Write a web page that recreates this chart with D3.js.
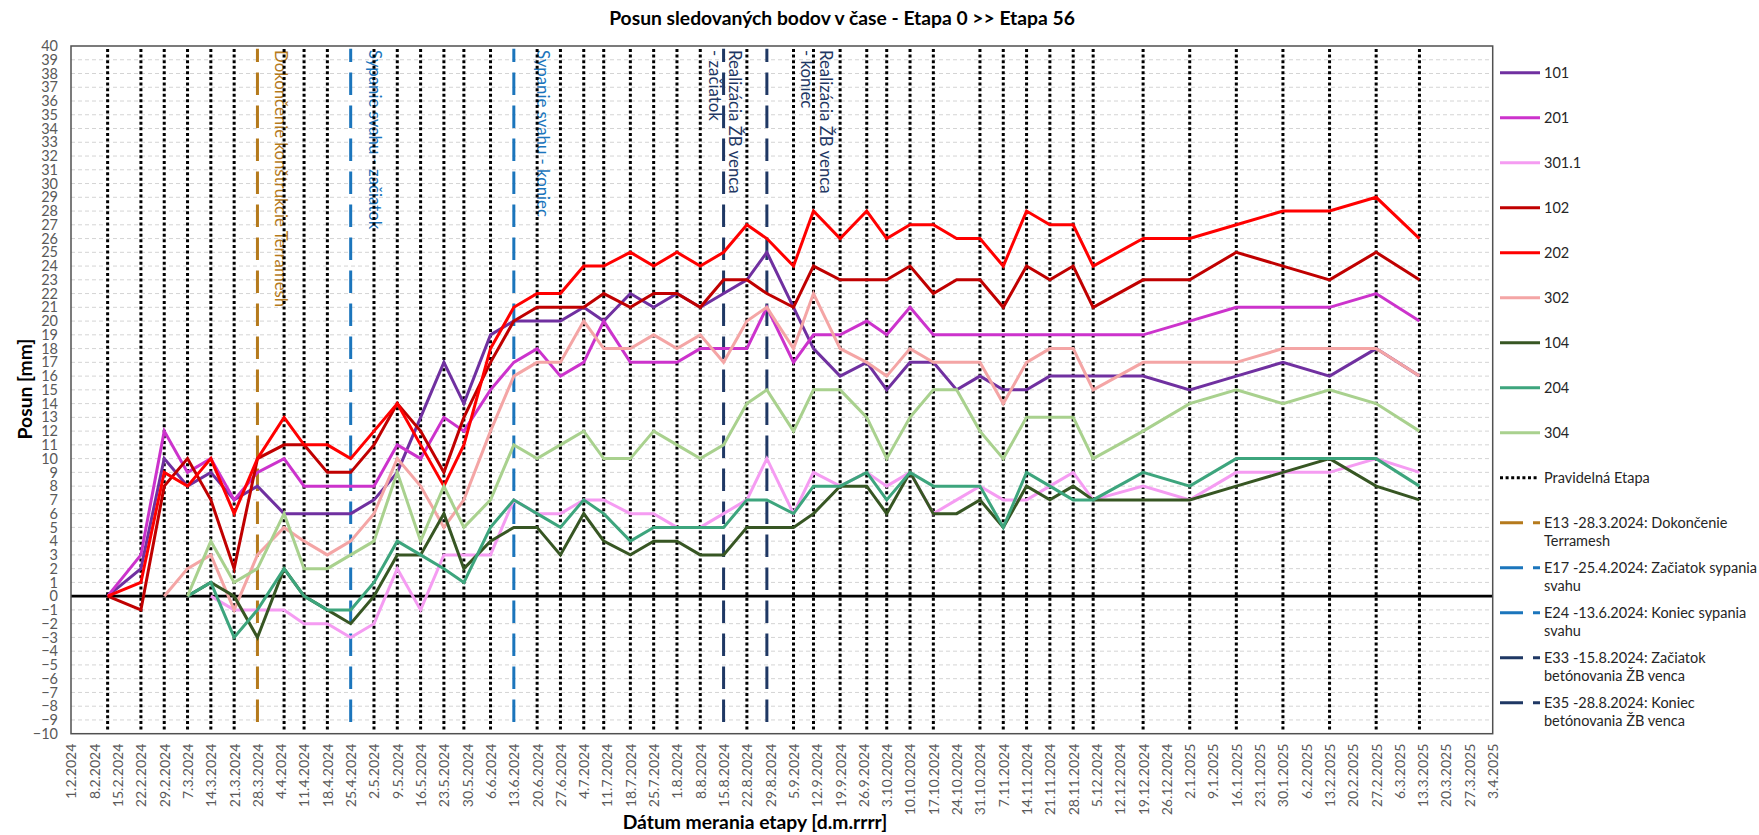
<!DOCTYPE html>
<html><head><meta charset="utf-8">
<script src="https://cdn.jsdelivr.net/npm/d3@7"></script>
<style>
body{margin:0;background:#fff;}
svg{display:block;font-family:Lato,"Open Sans",sans-serif;}
</style>
</head><body>
<svg id="chart" width="1759" height="835"></svg>
<script>
// ---------------- DATA ----------------
const dates = [
"2024-02-12","2024-02-22","2024-02-29","2024-03-07","2024-03-14","2024-03-21","2024-03-28","2024-04-05","2024-04-11","2024-04-18",
"2024-04-25","2024-05-02","2024-05-09","2024-05-16","2024-05-23","2024-05-29","2024-06-06","2024-06-13","2024-06-20","2024-06-27",
"2024-07-04","2024-07-10","2024-07-18","2024-07-25","2024-08-01","2024-08-08","2024-08-15","2024-08-22","2024-08-28","2024-09-05",
"2024-09-11","2024-09-19","2024-09-27","2024-10-03","2024-10-10","2024-10-17","2024-10-24","2024-10-31","2024-11-07","2024-11-14",
"2024-11-21","2024-11-28","2024-12-04","2024-12-19","2025-01-02","2025-01-16","2025-01-30","2025-02-13","2025-02-27","2025-03-12"];

const s101 = [0,2,10,8,9,7,8,6,6,6, 6,7,9,13,17,14,19,20,20,20, 21,20,22,21,22,21,22,23,25,21, 18,16,17,15,17,17,15,16,15,15, 16,16,16,16,15,16,17,16,18,16];
const s201 = [0,3,12,9,10,7,9,10,8,8, 8,8,11,10,13,12,15,17,18,16, 17,20,17,17,17,18,18,18,21,17, 19,19,20,19,21,19,19,19,19,19, 19,19,19,19,20,21,21,21,22,20];
const s301 = [null,null,null,null,0,-1,-1,-1,-2,-2, -3,-2,2,-1,3,3,3,7,6,6, 7,7,6,6,5,5,6,7,10,6, 9,8,9,8,9,6,7,8,7,7, 8,9,7,8,7,9,9,9,10,9];
const s102 = [0,-1,8,10,7,2,10,11,11,9, 9,11,14,12,9,13,17,20,21,21, 21,22,21,22,22,21,23,23,22,21, 24,23,23,23,24,22,23,23,21,24, 23,24,21,23,23,25,24,23,25,23];
const s202 = [0,1,9,8,10,6,10,13,11,11, 10,12,14,11,8,11,18,21,22,22, 24,24,25,24,25,24,25,27,26,24, 28,26,28,26,27,27,26,26,24,28, 27,27,24,26,26,27,28,28,29,26];
const s302 = [null,null,0,2,3,-1,3,5,4,3, 4,6,10,8,5,7,12,16,17,17, 20,18,18,19,18,19,17,20,21,18, 22,18,17,16,18,17,17,17,14,17, 18,18,15,17,17,17,18,18,18,16];
const s104 = [null,null,null,0,1,0,-3,2,0,-1, -2,0,3,3,6,2,4,5,5,3, 6,4,3,4,4,3,3,5,5,5, 6,8,8,6,9,6,6,7,5,8, 7,8,7,7,7,8,9,10,8,7];
const s204 = [null,null,null,0,1,-3,-1,2,0,-1, -1,1,4,3,2,1,5,7,6,5, 7,6,4,5,5,5,5,7,7,6, 8,8,9,7,9,8,8,8,5,9, 8,7,7,9,8,10,10,10,10,8];
const s304 = [null,null,null,0,4,1,2,6,2,2, 3,4,9,4,8,5,7,11,10,11, 12,10,10,12,11,10,11,14,15,12, 15,15,13,10,13,15,15,12,10,13, 13,13,10,12,14,15,14,15,14,12];

const seriesNames  = ["101","201","301.1","102","202","302","104","204","304"];
const seriesValues = [s101,s201,s301,s102,s202,s302,s104,s204,s304];
const seriesColors = ["#7030A0","#CC33CC","#F59CF2","#C00000","#FF0000","#F4A5A5","#375623","#3DA57D","#A9D18E"];

const eventDates  = ["2024-03-28","2024-04-25","2024-06-13","2024-08-15","2024-08-28"];
const eventLegend = [["E13 -28.3.2024: Dokončenie","Terramesh"],["E17 -25.4.2024: Začiatok sypania","svahu"],["E24 -13.6.2024: Koniec sypania","svahu"],["E33 -15.8.2024: Začiatok","betónovania ŽB venca"],["E35 -28.8.2024: Koniec","betónovania ŽB venca"]];
const eventLabels = [["Dokončenie konštrukcie Terramesh"],["Sypanie svahu - začiatok"],["Sypanie svahu - koniec"],["Realizácia ŽB venca","- začiatok"],["Realizácia ŽB venca","- koniec"]];
const eventColors = ["#B57A1C","#1B75BC","#1B75BC","#1F3864","#1F3864"];
const extraDates  = ["2024-10-24"];   // irregular stage, no dotted line
const regularLabel = "Pravidelná Etapa";

const yTickValues = d3.range(-10, 41, 1);
const xStart = "2024-02-01", xEnd = "2025-04-03";

const titleText = "Posun sledovaných bodov v čase - Etapa 0 >> Etapa 56";
const xTitle = "Dátum merania etapy [d.m.rrrr]";
const yTitle = "Posun [mm]";

// ---------------- LAYOUT ----------------
const P = {l:71, r:1492.7, t:46, b:733.7};
const labelPos = [{x:281.7,y:50},{x:375,y:50},{x:543,y:50},{x:735,y:50},{x:826.7,y:50}];
const DOT = "3,2.6";

const parse = d3.utcParse("%Y-%m-%d");
const fmt = d3.utcFormat("%-d.%-m.%Y");
const svg = d3.select("#chart");

const x = d3.scaleUtc().domain([parse(xStart), parse(xEnd)]).range([P.l, P.r]);
const y = d3.scaleLinear().domain([-10, 40]).range([P.b, P.t]);

// gridlines
svg.append("g").selectAll("line").data(yTickValues.filter(v => v !== 0 && v !== 40 && v !== -10)).join("line")
  .attr("x1", P.l).attr("x2", P.r).attr("y1", d => y(d)).attr("y2", d => y(d))
  .attr("stroke", "#D4D4D4").attr("stroke-width", 1).attr("stroke-dasharray", "4,3");

// event labels (under dotted lines)
eventLabels.forEach((lines, i) => {
  const g = svg.append("g").attr("transform", `translate(${labelPos[i].x},${labelPos[i].y}) rotate(90)`);
  lines.forEach((t, j) => {
    g.append("text").attr("x", 0).attr("y", j * 19.5).attr("dominant-baseline", "central")
      .attr("font-size", 16.8).attr("fill", eventColors[i]).text(t);
  });
});

// regular dotted lines
const excluded = new Set([...eventDates, ...extraDates]);
const regularDates = dates.filter(d => !excluded.has(d));
svg.append("g").selectAll("line").data(regularDates).join("line")
  .attr("x1", d => x(parse(d))).attr("x2", d => x(parse(d)))
  .attr("y1", y(-9.7)).attr("y2", y(39.8))
  .attr("stroke", "#000").attr("stroke-width", 3).attr("stroke-dasharray", DOT);

// event dashed lines
svg.append("g").selectAll("line").data(eventDates).join("line")
  .attr("x1", d => x(parse(d))).attr("x2", d => x(parse(d)))
  .attr("y1", 722).attr("y2", y(39.8))
  .attr("stroke", (d, i) => eventColors[i]).attr("stroke-width", 3).attr("stroke-dasharray", "22.5,10.5");

// zero line
svg.append("line").attr("x1", P.l).attr("x2", P.r).attr("y1", y(0)).attr("y2", y(0))
  .attr("stroke", "#000").attr("stroke-width", 2.8);

// series
const line = d3.line().defined(d => d.v !== null).x(d => x(d.t)).y(d => y(d.v));
seriesValues.forEach((vals, i) => {
  const pts = vals.map((v, k) => ({t: parse(dates[k]), v}));
  svg.append("path").datum(pts).attr("d", line).attr("fill", "none")
    .attr("stroke", seriesColors[i]).attr("stroke-width", 3).attr("stroke-linejoin", "miter");
});

// border
svg.append("rect").attr("x", P.l).attr("y", P.t).attr("width", P.r - P.l).attr("height", P.b - P.t)
  .attr("fill", "none").attr("stroke", "#505050").attr("stroke-width", 1.5);

// y axis
const yAxis = d3.axisLeft(y).tickValues(yTickValues).tickSize(0).tickPadding(13).tickFormat(d3.format("d"));
const gy = svg.append("g").attr("transform", `translate(${P.l},0)`).call(yAxis);
gy.select(".domain").remove();
gy.selectAll("text").attr("font-family", "Lato").attr("font-size", 14.5).attr("fill", "#595959");

// x axis
const xTicks = d3.utcDay.range(parse(xStart), d3.utcDay.offset(parse(xEnd), 1), 7);
const xAxis = d3.axisBottom(x).tickValues(xTicks).tickSize(0).tickFormat(fmt);
const gx = svg.append("g").attr("transform", `translate(0,${P.b})`).call(xAxis);
gx.select(".domain").remove();
gx.selectAll("text").attr("transform", "rotate(-90)").attr("text-anchor", "end")
  .attr("x", -10).attr("y", 0).attr("dy", "0.35em")
  .attr("font-family", "Lato").attr("font-size", 14).attr("fill", "#595959");

// titles
svg.append("text").attr("x", 842).attr("y", 17).attr("text-anchor", "middle").attr("dominant-baseline", "central")
  .attr("font-weight", "bold").attr("font-size", 19.3).attr("fill", "#000").text(titleText);
svg.append("text").attr("x", 755).attr("y", 821).attr("text-anchor", "middle").attr("dominant-baseline", "central")
  .attr("font-weight", "bold").attr("font-size", 19.3).attr("fill", "#000").text(xTitle);
svg.append("text").attr("transform", "translate(24,389) rotate(-90)").attr("text-anchor", "middle").attr("dominant-baseline", "central")
  .attr("font-weight", "bold").attr("font-size", 19.3).attr("fill", "#000").text(yTitle);

// legend
const L = {x0:1500, x1:1540, tx:1544, y0:72.7, dy:45};
const LF = 14.5;
const lg = svg.append("g");
seriesNames.forEach((n, i) => {
  const yy = L.y0 + i * L.dy;
  lg.append("line").attr("x1", L.x0).attr("x2", L.x1).attr("y1", yy).attr("y2", yy)
    .attr("stroke", seriesColors[i]).attr("stroke-width", 3);
  lg.append("text").attr("x", L.tx).attr("y", yy).attr("dominant-baseline", "central")
    .attr("font-size", LF).attr("fill", "#262626").text(n);
});
{
  const yy = L.y0 + seriesNames.length * L.dy;
  lg.append("line").attr("x1", L.x0).attr("x2", L.x1 - 1).attr("y1", yy).attr("y2", yy)
    .attr("stroke", "#000").attr("stroke-width", 3).attr("stroke-dasharray", DOT);
  lg.append("text").attr("x", L.tx).attr("y", yy).attr("dominant-baseline", "central")
    .attr("font-size", LF).attr("fill", "#262626").text(regularLabel);
}
eventLegend.forEach((lines, i) => {
  const yy = L.y0 + (seriesNames.length + 1 + i) * L.dy;
  lg.append("line").attr("x1", L.x0).attr("x2", L.x1).attr("y1", yy).attr("y2", yy)
    .attr("stroke", eventColors[i]).attr("stroke-width", 3).attr("stroke-dasharray", "23,10");
  lines.forEach((t, j) => {
    lg.append("text").attr("x", L.tx).attr("y", yy + j * 18).attr("dominant-baseline", "central")
      .attr("font-size", LF).attr("fill", "#262626").text(t);
  });
});
</script>
</body></html>
